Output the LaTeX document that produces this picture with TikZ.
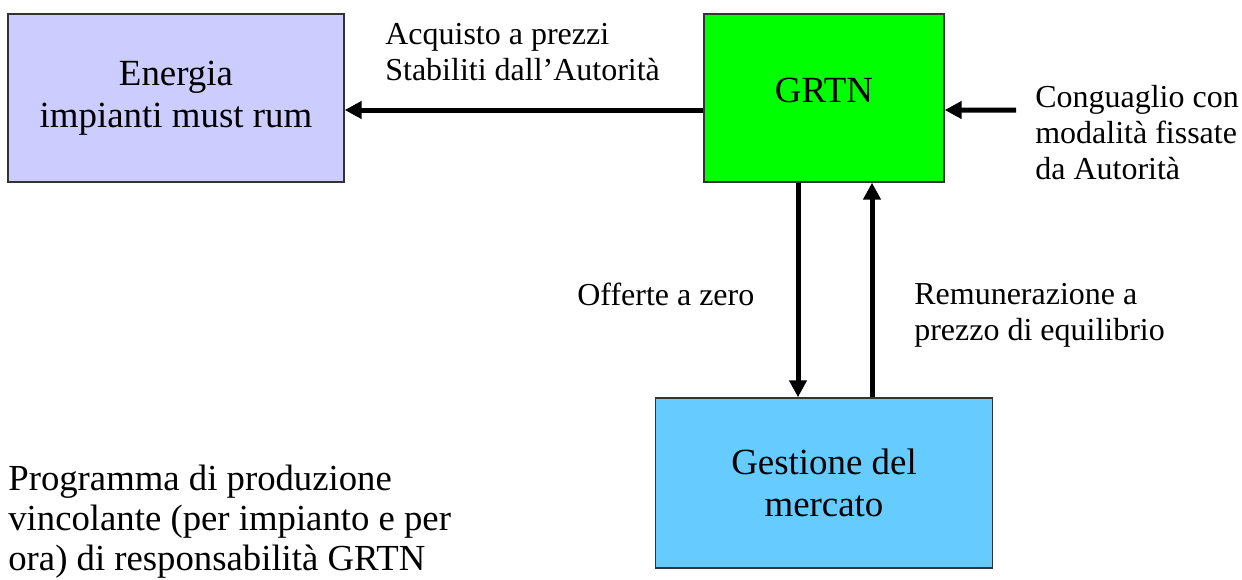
\documentclass[tikz,border=0pt]{standalone}
\usepackage{fontspec}
\setmainfont{Liberation Serif}
\usepackage{tikz}
\usetikzlibrary{
  arrows.meta,
  positioning
}
\usepackage{xcolor}
\definecolor{lavender}{RGB}{204,204,255}
\definecolor{brightGreen}{RGB}{0,255,0}
\definecolor{skyBlue}{RGB}{102,204,255}
\newcommand{\boxfont}{\fontsize{21pt}{24pt}\selectfont}
\newcommand{\notefont}{\fontsize{18.2pt}{20.5pt}\selectfont}
\newcommand{\bigfont}{\fontsize{20.9pt}{22.8pt}\selectfont}
\tikzset{
  block/.style={
    draw=black!80,
    line width = 0.8pt,
    align = center,
    font = \boxfont,
    minimum height = 3.36cm
  },
  note/.style={
    inner sep = 0pt,
    align = left,
    anchor = north west,
    font = \notefont
  },
  flow/.style={
    line width = 0.1cm
  }
}

\begin{document}
\begin{tikzpicture}[>={Triangle[length=0.34cm,width=0.34cm]}]
    \useasboundingbox (0,0) rectangle (24.84,-11.6);

    \node[block, fill=lavender, minimum width=6.72cm] (energia) at (3.52,-1.96)
        {Energia\\impianti must rum};
    \node[block, fill=brightGreen, minimum width=4.80cm, text depth=0.32cm] (grtn) at (16.48,-1.96)
        {GRTN};
    \node[block, fill=skyBlue, minimum width=6.74cm, minimum height=3.40cm] (mercato) at (16.48,-9.66)
        {Gestione del\\mercato};
    \coordinate (conguaglio) at (20.32,-2.20);

    \node[note] (acquisto) at (7.70,-0.46) {Acquisto a prezzi\\Stabiliti dall’Autorità};
    \node[note] (modalita) at (20.70,-1.70) {Conguaglio con\\modalità fissate\\da Autorità};
    \node[note] (offerte) at (11.54,-5.66) {Offerte a zero};
    \node[note] (remunerazione) at (18.28,-5.66) {Remunerazione a\\prezzo di equilibrio};
    \node[note, font=\bigfont] (programma) at (0.16,-9.30)
        {Programma di produzione\\vincolante (per impianto e per\\ora) di responsabilità GRTN};

    \path[->, flow]
    ([yshift=-0.24cm]grtn.west) edge ([yshift=-0.24cm]energia.east)
    (conguaglio) edge ([yshift=-0.24cm]grtn.east)
    ([xshift=-0.52cm]grtn.south) edge ([xshift=-0.52cm]mercato.north)
    ([xshift=0.96cm]mercato.north) edge ([xshift=0.96cm]grtn.south)
        ;
\end{tikzpicture}
\end{document}
